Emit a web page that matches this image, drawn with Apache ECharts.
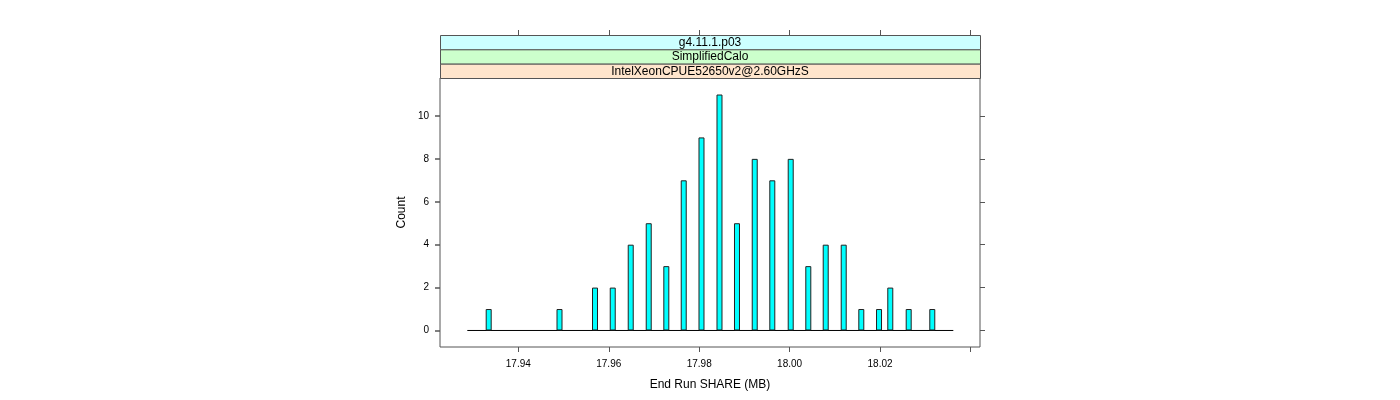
<!DOCTYPE html>
<html>
<head>
<meta charset="utf-8">
<script src="https://cdn.jsdelivr.net/npm/echarts@6/dist/echarts.min.js"></script>
<style>
html,body{margin:0;padding:0;background:#fff;}
#c{width:1400px;height:400px;}
</style>
</head>
<body>
<div id="c"></div>
<script>
// ---- data ----
const binCenters = [17.93345, 17.94911, 17.95696, 17.96088, 17.96486, 17.96884, 17.97273, 17.97658,
  17.98051, 17.98449, 17.98836, 17.99228, 17.99617, 18.00024, 18.00413, 18.00798, 18.01196,
  18.01585, 18.01977, 18.02226, 18.02633, 18.03155];
const counts = [1, 1, 2, 2, 4, 5, 3, 7, 9, 11, 5, 8, 7, 8, 3, 4, 4, 1, 1, 2, 1, 1];
const histRange = [17.92872, 18.03620];
const xTicks = [17.94, 17.96, 17.98, 18.00, 18.02, 18.04];
const xLabels = [17.94, 17.96, 17.98, 18.00, 18.02];
const yTicks = [0, 2, 4, 6, 8, 10];
const xLimits = [17.92268, 18.04210];
const yLimits = [-0.77, 11.77];
const stripTexts = ['g4.11.1.p03', 'SimplifiedCalo', 'IntelXeonCPUE52650v2@2.60GHzS'];
const stripColors = ['#CCFFFF', '#CCFFCC', '#FFE5CC'];
const xTitle = 'End Run SHARE (MB)';
const yTitle = 'Count';

const FONT = '"Liberation Sans", Arial, sans-serif';
const chart = echarts.init(document.getElementById('c'));

const G = {left: 440, right: 420, top: 78, bottom: 53};
const stripTop = 35, stripH = (G.top - stripTop) / 3;

const graphics = [];
stripTexts.forEach((t, i) => {
  graphics.push({
    type: 'rect', left: G.left, top: stripTop + i * stripH,
    shape: {width: 540, height: stripH},
    style: {fill: stripColors[i], stroke: '#555', lineWidth: 1}, z: 10
  });
  graphics.push({
    type: 'text', x: G.left + 270, y: stripTop + i * stripH + stripH / 2 + 0.5,
    style: {text: t, fill: '#000', font: '12px ' + FONT, align: 'center', verticalAlign: 'middle'}, z: 11
  });
});

chart.setOption({
  animation: false,
  grid: {left: G.left, right: G.right, top: G.top, bottom: G.bottom, show: true,
    borderColor: '#555', borderWidth: 1, backgroundColor: 'transparent'},
  graphic: graphics,
  xAxis: [{
    type: 'value', position: 'bottom', min: xLimits[0], max: xLimits[1],
    axisLine: {show: false, onZero: false}, splitLine: {show: false},
    axisTick: {show: true, length: 5, customValues: xTicks, lineStyle: {color: '#555'}},
    axisLabel: {show: true, customValues: xLabels, fontFamily: FONT, fontSize: 10, color: '#000', margin: 12,
      formatter: v => v.toFixed(2)},
    name: xTitle, nameLocation: 'middle', nameGap: 32,
    nameTextStyle: {fontFamily: FONT, fontSize: 12, color: '#000'}
  }, {
    type: 'value', position: 'top', offset: G.top - stripTop, min: xLimits[0], max: xLimits[1],
    axisLine: {show: false, onZero: false}, splitLine: {show: false},
    axisTick: {show: true, length: 5, customValues: xTicks, lineStyle: {color: '#555'}},
    axisLabel: {show: false}
  }],
  yAxis: [{
    type: 'value', position: 'left', min: yLimits[0], max: yLimits[1],
    axisLine: {show: false, onZero: false}, splitLine: {show: false},
    axisTick: {show: false},
    axisLabel: {show: true, customValues: yTicks, fontFamily: FONT, fontSize: 10, color: '#000', margin: 11},
    name: yTitle, nameLocation: 'middle', nameGap: 32, nameRotate: 90,
    nameTextStyle: {fontFamily: FONT, fontSize: 12, color: '#000'}
  }, {
    type: 'value', position: 'right', min: yLimits[0], max: yLimits[1],
    axisLine: {show: false, onZero: false}, splitLine: {show: false},
    axisTick: {show: true, length: 5, customValues: yTicks, lineStyle: {color: '#555', width: 1}},
    axisLabel: {show: false}
  }, {
    type: 'value', position: 'left', offset: 0, min: yLimits[0], max: yLimits[1],
    axisLine: {show: false, onZero: false}, splitLine: {show: false},
    axisTick: {show: true, length: 5, customValues: yTicks, lineStyle: {color: '#555', width: 1.5}},
    axisLabel: {show: false}
  }],
  series: [{
    type: 'line', xAxisIndex: 0, yAxisIndex: 0,
    data: [[histRange[0], 0], [histRange[1], 0]],
    symbol: 'none', lineStyle: {color: '#000', width: 1}, z: 1, silent: true
  }, {
    type: 'bar', xAxisIndex: 0, yAxisIndex: 0,
    data: binCenters.map((x, i) => [x, counts[i]]),
    barWidth: 6,
    itemStyle: {color: '#00FFFF', borderColor: '#222', borderWidth: 1},
    z: 2
  }]
});
</script>
</body>
</html>
